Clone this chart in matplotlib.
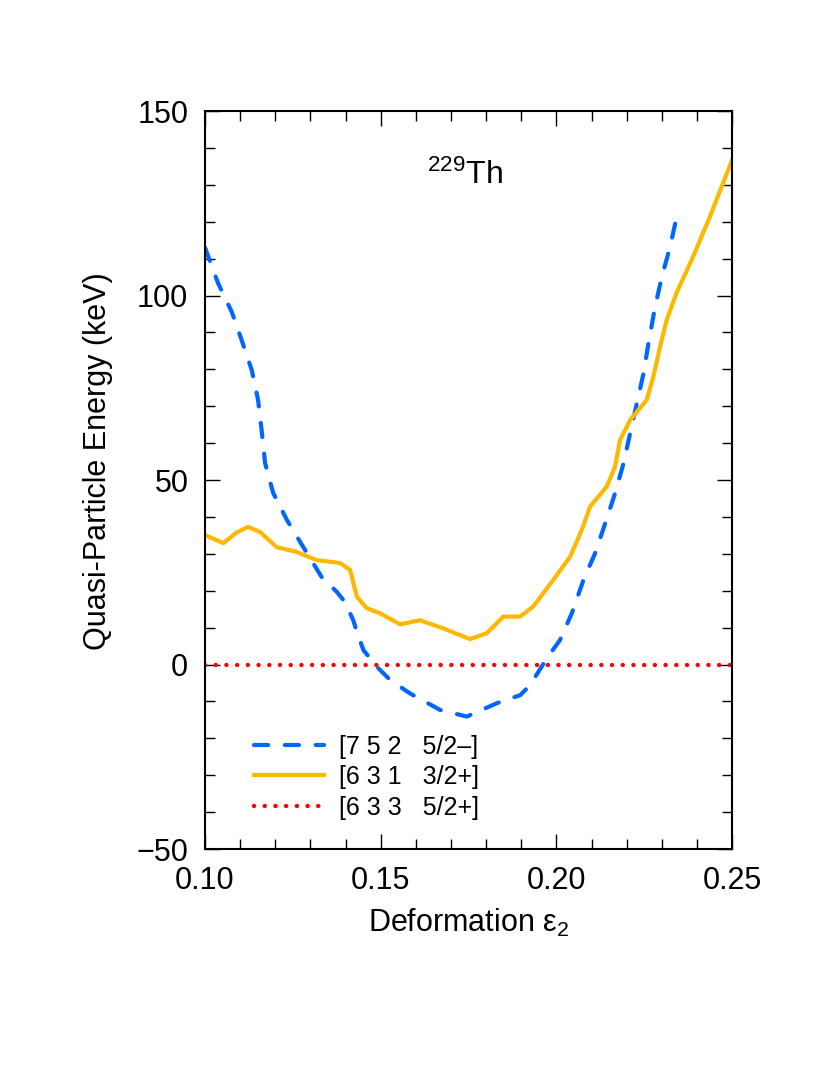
import numpy as np
import matplotlib
matplotlib.use("Agg")
import matplotlib.pyplot as plt

plt.rcParams['font.family'] = ['Liberation Sans', 'DejaVu Sans']
plt.rcParams['mathtext.fontset'] = 'custom'
plt.rcParams['mathtext.rm'] = 'Liberation Sans'
plt.rcParams['mathtext.it'] = 'Liberation Sans:italic'

# [7 5 2 5/2-] quasi-particle energy vs deformation
eps_752 = [0.100, 0.1037, 0.1076, 0.1104, 0.1133, 0.1151, 0.1161, 0.1171, 0.1194, 0.1233,
           0.128, 0.1332, 0.1375, 0.1398, 0.1422, 0.1432, 0.1451, 0.1489, 0.1527, 0.1583,
           0.1669, 0.1745, 0.183, 0.1897, 0.1925, 0.1973, 0.201, 0.2044, 0.2077, 0.211,
           0.2139, 0.2167, 0.2191, 0.221, 0.2229, 0.2248, 0.2262, 0.2281, 0.230, 0.2323, 0.2345]
e_752 = [113.0, 103.4, 95.6, 88.0, 79.8, 71.7, 63.6, 54.6, 46.5, 39.2,
         31.8, 23.7, 19.7, 17.0, 12.0, 8.9, 3.9, -0.6, -4.2, -7.8,
         -12.3, -14.1, -10.5, -8.3, -5.6, 1.7, 6.6, 13.9, 22.9, 30.1,
         38.3, 46.4, 54.5, 62.7, 70.8, 78.9, 87.0, 97.0, 105.0, 113.0, 122.4]

# [6 3 1 3/2+]
eps_631 = [0.100, 0.1052, 0.109, 0.1123, 0.1157, 0.1204, 0.1261, 0.1318, 0.1385, 0.1413,
           0.1432, 0.146, 0.1498, 0.1555, 0.1612, 0.1678, 0.1754, 0.1802, 0.1849, 0.1897,
           0.1934, 0.1991, 0.2039, 0.2072, 0.2096, 0.2143, 0.2167, 0.2181, 0.221, 0.2257,
           0.2276, 0.2295, 0.2314, 0.2342, 0.2389, 0.2437, 0.250]
e_631 = [35.1, 32.9, 35.8, 37.3, 35.9, 31.8, 30.5, 28.3, 27.5, 25.6,
         18.4, 15.3, 13.9, 10.9, 12.0, 9.8, 6.9, 8.5, 13.0, 13.0,
         15.7, 22.9, 29.2, 36.4, 42.8, 48.2, 53.6, 60.8, 66.3, 71.7,
         78.0, 86.1, 93.4, 100.7, 110.5, 121.4, 136.7]

# [6 3 3 5/2+] reference level
eps_633 = [0.10, 0.25]
e_633 = [0.0, 0.0]

labels = ['[7 5 2   5/2\u2013]', '[6 3 1   3/2+]', '[6 3 3   5/2+]']
xticks = [0.10, 0.15, 0.20, 0.25]
yticks = [-50, 0, 50, 100, 150]

fig = plt.figure(figsize=(8.3, 10.75), dpi=100)
ax = fig.add_axes([0.247, 0.2102, 0.635, 0.6865])

ax.plot(eps_752, e_752, color='#0066ff', lw=3, linestyle=(0, (3.4, 4.0)),
        dash_capstyle='round', label=labels[0])
ax.plot(eps_631, e_631, color='#ffb800', lw=3, label=labels[1])
ax.plot(eps_633, e_633, color='#ff0000', lw=3.2, linestyle=(0, (0.01, 2.4)),
        dash_capstyle='round', label=labels[2])

ax.set_xlim(0.10, 0.25)
ax.set_ylim(-50, 150)
ax.set_xticks(xticks)
ax.set_xticklabels(['%.2f' % t for t in xticks])
ax.set_yticks(yticks)
ax.set_yticklabels(['\u221250' if t < 0 else str(t) for t in yticks])
ax.set_xticks(np.arange(0.10, 0.2501, 0.01), minor=True)
ax.set_yticks(np.arange(-50, 151, 10), minor=True)

ax.tick_params(which='both', direction='in', top=True, right=True, width=1)
ax.tick_params(which='major', length=11, labelsize=22, pad=12)
ax.tick_params(which='minor', length=7)
for s in ax.spines.values():
    s.set_linewidth(1.5)

ax.set_xlabel('Deformation \u03b5$_2$', fontsize=22, labelpad=8)
ax.set_ylabel('Quasi-Particle Energy (keV)', fontsize=22)
ax.yaxis.set_label_coords(-0.175, 0.525)

ax.text(0.494, 0.913, r'$^{229}\mathrm{Th}$', transform=ax.transAxes,
        fontsize=23, ha='center', va='center')

ax.legend(loc='lower left', bbox_to_anchor=(0.093, 0.04), frameon=False,
          fontsize=18, handlelength=2.8, handletextpad=0.6, labelspacing=0.26,
          borderpad=0, borderaxespad=0)

fig.savefig('out.png', dpi=100, facecolor='white')
